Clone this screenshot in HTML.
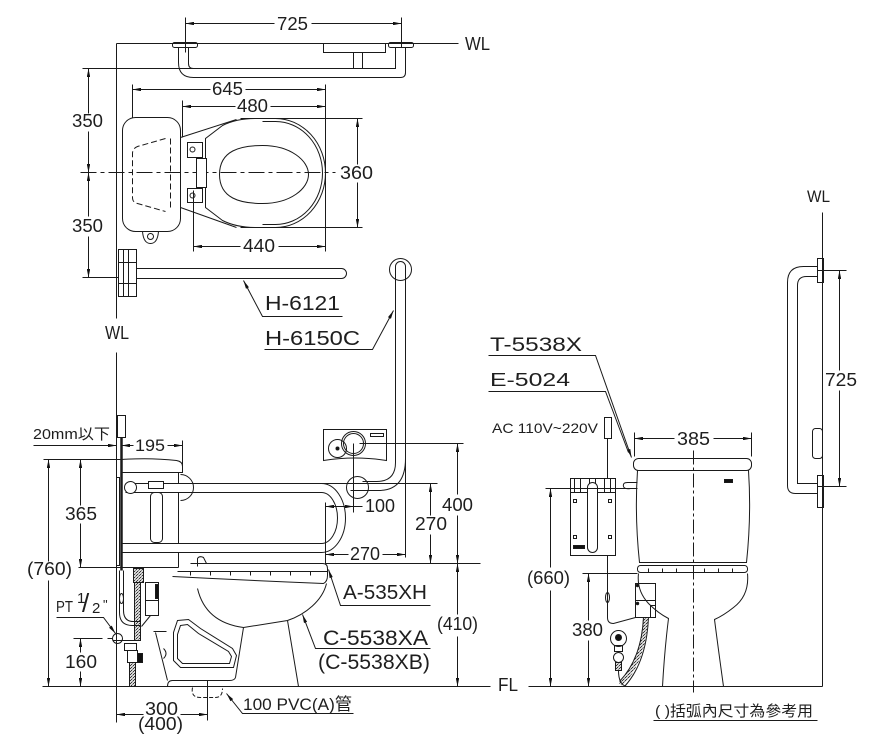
<!DOCTYPE html>
<html><head><meta charset="utf-8"><style>
html,body{margin:0;padding:0;background:#fff;width:871px;height:743px;overflow:hidden}
svg{display:block}
text{font-family:"Liberation Sans","Noto Sans CJK TC",sans-serif;fill:#1e1e1e}
</style></head><body>
<svg width="871" height="743" viewBox="0 0 871 743" xmlns="http://www.w3.org/2000/svg">
<defs>
<marker id="a" viewBox="0 0 10 4" refX="10" refY="2" markerWidth="9" markerHeight="3.4" orient="auto-start-reverse" markerUnits="userSpaceOnUse"><path d="M0,0L10,2L0,4z" fill="#111"/></marker>
<pattern id="h" width="3" height="3" patternUnits="userSpaceOnUse"><path d="M0,3L3,0" stroke="#111" stroke-width="0.8"/></pattern>
</defs>
<g fill="none" stroke="#1a1a1a" stroke-width="1" transform="translate(0.5,0.5)">
<!-- ===== PLAN VIEW ===== -->
<path d="M185,17V52M401,17V47"/>
<path d="M185,23H274" marker-start="url(#a)"/>
<path d="M311,23H401" marker-end="url(#a)"/>
<path d="M116,43H458"/>
<path d="M116,43V318M116,352V722"/>
<rect x="172" y="42" width="25" height="5" rx="2"/>
<rect x="388" y="42" width="25" height="5" rx="2"/>
<path d="M178,47V62Q178,77 193,77H400Q405,77 405,72V47"/>
<path d="M188,47V63Q188,68 193,68"/>
<path d="M82,68H395V47"/>
<rect x="323" y="43" width="62" height="9"/>
<path d="M353,52V68M362,52V68"/>
<path d="M88,68V113" marker-start="url(#a)"/>
<path d="M88,131V172" marker-end="url(#a)"/>
<path d="M88,172V216" marker-start="url(#a)"/>
<path d="M88,236V277" marker-end="url(#a)"/>
<path d="M82,277H118"/>
<path d="M80,172H335" stroke-dasharray="16,4,4,4"/>
<path d="M132,89H210" marker-start="url(#a)"/>
<path d="M245,89H325" marker-end="url(#a)"/>
<path d="M182,106H235" marker-start="url(#a)"/>
<path d="M270,106H325" marker-end="url(#a)"/>
<path d="M193,246H240" marker-start="url(#a)"/>
<path d="M278,246H325" marker-end="url(#a)"/>
<path d="M357,118V164" marker-start="url(#a)"/>
<path d="M357,182V227" marker-end="url(#a)"/>
<path d="M132,84V117M182,100V137M325,84V251M193,190V251M240,118H362M240,227H362"/>
<rect x="122" y="117" width="58" height="114" rx="13"/>
<path d="M165,138L137,146Q132,148 132,153V197Q132,202 137,203L165,211" stroke-dasharray="6,3"/>
<path d="M170,138V210" stroke-dasharray="6,3"/>
<path d="M142,231Q143,243 150,243Q157,243 158,231"/>
<circle cx="150" cy="236" r="3"/>
<path d="M180,137L236,119M180,207L236,227"/>
<path d="M205,138V207L222,220Q236,227 255,227H275A50,54.5 0 0 0 275,118H255Q236,118 222,125Z"/>
<path d="M262,121H275A47,51.5 0 0 1 275,224H262"/>
<path d="M219,174C219,150 240,145 262,145C290,145 308,160 308,174C308,188 290,203 262,203C240,203 219,198 219,174Z"/>
<rect x="187" y="142" width="15" height="15"/>
<rect x="187" y="188" width="15" height="14"/>
<rect x="196" y="158" width="10" height="29" fill="#fff"/>
<circle cx="192" cy="149" r="2.5"/><circle cx="192" cy="195" r="2.5"/>
<!-- H-6121 -->
<rect x="118" y="249" width="18" height="47"/>
<path d="M123,249V296M128,249V296M118,262H136M118,283H136"/>
<path d="M136,268H341A5,5 0 0 1 341,278H136"/>
<path d="M342,316H262L243,280" marker-end="url(#a)"/>
<!-- H-6150C -->
<circle cx="400" cy="269" r="11"/>
<path d="M395,277V266A5,5 0 0 1 405,266"/>
<path d="M395,266V462Q395,481 376,481H362"/>
<path d="M405,266V557"/>
<path d="M405,458Q405,490 378,490H350"/>
<circle cx="357" cy="487" r="11"/>
<path d="M264,349H372L393,310" marker-end="url(#a)"/>
<!-- valve box -->
<path d="M323,429H386V460Q355,455 323,460Z"/>
<circle cx="353" cy="443" r="12"/><circle cx="353" cy="443" r="10"/>
<circle cx="337" cy="448" r="9"/><circle cx="337" cy="448" r="1.5" fill="#111"/>
<rect x="370" y="433" width="13" height="3"/>
<path d="M353,443V512M359,443H463"/>
<!-- right dims of side view -->
<path d="M457,443V494" marker-start="url(#a)"/>
<path d="M457,515V563" marker-end="url(#a)"/>
<path d="M430,483V515" marker-start="url(#a)"/>
<path d="M430,534V563" marker-end="url(#a)"/>
<path d="M457,563V614" marker-start="url(#a)"/>
<path d="M457,636V686" marker-end="url(#a)"/>
<path d="M325,554H348" marker-start="url(#a)"/>
<path d="M382,554H405" marker-end="url(#a)"/>
<path d="M325,506H362" marker-start="url(#a)"/>
<path d="M338,506H353" marker-end="url(#a)"/>
<path d="M125,483H437"/>
<path d="M325,563H480"/>
<path d="M325,502V563"/>
<path d="M42,686H490M528,686H822"/>
<!-- left dims -->
<path d="M33,445H116" marker-end="url(#a)"/>
<path d="M121,445H133" marker-start="url(#a)"/>
<path d="M167,445H182" marker-end="url(#a)"/>
<path d="M182,440V472"/>
<path d="M43,459H121"/>
<path d="M80,459V505" marker-start="url(#a)"/>
<path d="M80,523V567" marker-end="url(#a)"/>
<path d="M78,567H121"/>
<path d="M48,459V561" marker-start="url(#a)"/>
<path d="M48,580V686" marker-end="url(#a)"/>
<path d="M80,638V652" marker-start="url(#a)"/>
<path d="M80,671V686" marker-end="url(#a)"/>
<path d="M73,638H102M107,638H112"/>
<path d="M56,617H103L115,633" marker-end="url(#a)"/>
<path d="M116,714H143" marker-start="url(#a)"/>
<path d="M180,714H207" marker-end="url(#a)"/>
<path d="M207,680V720"/>
<path d="M353,713H242L226,693" marker-end="url(#a)"/>
<path d="M192,687Q190,697 200,697H215Q222,697 222,688" stroke-dasharray="4,2"/>
<path d="M430,605H340L328,569" marker-end="url(#a)"/>
<path d="M430,648H315L302,614" marker-end="url(#a)"/>
<!-- side view toilet -->
<rect x="117" y="415" width="8" height="22"/>
<path d="M121,437V570" stroke-width="2.5"/>
<rect x="116" y="477" width="3" height="88"/>
<path d="M121,459Q150,457 176,460Q182,461 182,466V472H121"/>
<path d="M178,472V483M178,492V543M178,552V567"/>
<path d="M121,567H178"/>
<path d="M125,492H321A16,25.5 0 0 1 321,543H121"/>
<path d="M321,483A24,34.5 0 0 1 321,552H121"/>
<rect x="150" y="492" width="12" height="50" rx="4" fill="#fff"/>
<rect x="148" y="481" width="15" height="7" fill="#fff"/>
<circle cx="130" cy="487" r="6" fill="#fff"/>
<path d="M180,474A13,13 0 0 1 180,500"/>
<path d="M190,563H322Q327,563 327,568V575Q327,581 323,583"/>
<path d="M177,571H327"/>
<path d="M190,571V575M210,571V575M230,571V575M250,571V575M270,571V575M290,571V575M310,571V575"/>
<path d="M172,576Q250,580 323,583"/>
<path d="M197,566V558Q199,555 203,557L206,563"/>
<path d="M326,583C322,600 305,614 287,620L243,627"/>
<path d="M197,588Q205,622 243,627"/>
<path d="M243,627L235,677Q234,680 229,680H172Q167,680 167,686"/>
<path d="M287,620L298,686"/>
<path d="M153,631H166M155,632L167,680"/>
<path d="M163,648Q168,653 163,658"/>
<path d="M177,620L188,619L200,628L232,648L236,655L233,667L180,667L173,660L173,632Z"/>
<path d="M180,625L187,624L198,633L228,651L231,656L229,663L182,663L177,658L177,634Z"/>
<!-- piping -->
<path d="M119,570V612Q119,625 132,625H140"/>
<path d="M123,570V610Q123,621 133,621H140"/>
<ellipse cx="121" cy="598" rx="2" ry="5"/>
<rect x="133" y="568" width="10" height="14" fill="url(#h)"/>
<rect x="134" y="582" width="6" height="58" fill="url(#h)"/>
<rect x="145" y="582" width="13" height="33"/>
<path d="M145,600H158"/>
<rect x="155" y="584" width="3" height="14" fill="#111"/>
<path d="M150,615L141,626"/>
<path d="M112,640H137"/>
<path d="M117,633A5,5 0 0 0 117,643A5,5 0 0 0 117,633"/>
<rect x="124" y="643" width="12" height="7"/>
<rect x="127" y="650" width="10" height="12"/>
<rect x="137" y="653" width="5" height="9" fill="#111"/>
<rect x="129" y="662" width="6" height="24" fill="url(#h)"/>
<!-- ===== FRONT VIEW ===== -->
<path d="M488,355H595L631,457" marker-end="url(#a)"/>
<path d="M488,391H605L628,452"/>
<rect x="604" y="417" width="7" height="21"/>
<path d="M607,438V478"/>
<rect x="570" y="478" width="45" height="77"/>
<path d="M570,492H615"/>
<path d="M574,478V492M580,478V492M589,478V492M595,478V492M604,478V492M610,478V492"/>
<rect x="587" y="482" width="10" height="70" rx="5" fill="#fff"/>
<rect x="573" y="499" width="3" height="3"/><rect x="608" y="499" width="3" height="3"/>
<rect x="573" y="535" width="3" height="3"/><rect x="608" y="535" width="3" height="3"/>
<rect x="573" y="545" width="11" height="3" fill="#111"/>
<path d="M607,555V617Q607,623 613,623L635,617"/>
<ellipse cx="607" cy="597" rx="2" ry="5"/>
<path d="M545,488H637"/>
<path d="M550,488V567" marker-start="url(#a)"/>
<path d="M550,590V686" marker-end="url(#a)"/>
<path d="M582,573H637"/>
<path d="M588,573V620" marker-start="url(#a)"/>
<path d="M588,640V686" marker-end="url(#a)"/>
<rect x="633" y="458" width="118" height="12" rx="5"/>
<path d="M634,432V456M751,432V456"/>
<path d="M634,438H674" marker-start="url(#a)"/>
<path d="M713,438H751" marker-end="url(#a)"/>
<path d="M637,470Q634,515 639,562H746Q751,515 748,470"/>
<rect x="637" y="565" width="110" height="7" rx="3"/>
<path d="M648,568V572M662,568V572M676,568V572M704,568V572M718,568V572M732,568V572"/>
<path d="M637,482H627Q622,482 623,486Q624,489 630,488H637"/>
<rect x="724" y="479" width="8" height="3" fill="#111"/>
<path d="M693,450V692" stroke-dasharray="14,3,3,3"/>
<path d="M638,573Q636,590 648,603Q658,613 668,618Q664,650 662,686"/>
<path d="M747,573Q749,595 733,607Q723,615 714,619Q718,650 723,686"/>
<rect x="635" y="583" width="20" height="34"/>
<path d="M635,600H655"/>
<rect x="650" y="605" width="5" height="12"/>
<circle cx="637" cy="585" r="1.2" fill="#111"/><circle cx="637" cy="603" r="1.2" fill="#111"/>
<circle cx="618" cy="638" r="8"/>
<circle cx="618" cy="637" r="3" fill="#111"/>
<rect x="614" y="645" width="8" height="6"/>
<circle cx="618" cy="657" r="5"/>
<rect x="615" y="662" width="6" height="8" fill="url(#h)"/>
<path d="M618,670Q618,684 626,686"/>
<path d="M645,617Q643,660 620,684" stroke="url(#h)" stroke-width="5"/>
<path d="M643,617Q641,658 619,681M648,617Q646,662 624,686"/>
<!-- right wall & bar -->
<path d="M822,212V686"/>
<rect x="817" y="258" width="6" height="24"/>
<rect x="817" y="475" width="6" height="32"/>
<path d="M817,266H803Q787,266 787,282V485Q787,493 795,493H817"/>
<path d="M817,276H806Q797,276 797,285V483H817"/>
<rect x="812" y="428" width="10" height="30" rx="3"/>
<path d="M817,270H846M817,486H846"/>
<path d="M839,270V370" marker-start="url(#a)"/>
<path d="M839,390V486" marker-end="url(#a)"/>
<path d="M653,720H817"/>
</g>
<g stroke="none">
<text x="277" y="30" font-size="18" textLength="31" lengthAdjust="spacingAndGlyphs">725</text>
<text x="465" y="50" font-size="18" textLength="25" lengthAdjust="spacingAndGlyphs">WL</text>
<text x="212" y="95" font-size="18" textLength="31" lengthAdjust="spacingAndGlyphs">645</text>
<text x="237" y="112" font-size="18" textLength="31" lengthAdjust="spacingAndGlyphs">480</text>
<text x="72" y="127" font-size="18" textLength="31" lengthAdjust="spacingAndGlyphs">350</text>
<text x="72" y="232" font-size="18" textLength="31" lengthAdjust="spacingAndGlyphs">350</text>
<text x="340" y="179" font-size="18" textLength="33" lengthAdjust="spacingAndGlyphs">360</text>
<text x="243" y="252" font-size="18" textLength="32" lengthAdjust="spacingAndGlyphs">440</text>
<text x="265" y="310" font-size="20" textLength="75" lengthAdjust="spacingAndGlyphs">H-6121</text>
<text x="265" y="345" font-size="20" textLength="95" lengthAdjust="spacingAndGlyphs">H-6150C</text>
<text x="105" y="339" font-size="18" textLength="24" lengthAdjust="spacingAndGlyphs">WL</text>
<text x="33" y="439" font-size="15" textLength="77" lengthAdjust="spacingAndGlyphs">20mm以下</text>
<text x="135" y="451" font-size="17" textLength="30" lengthAdjust="spacingAndGlyphs">195</text>
<text x="65" y="520" font-size="18" textLength="32" lengthAdjust="spacingAndGlyphs">365</text>
<text x="27" y="575" font-size="18" textLength="45" lengthAdjust="spacingAndGlyphs">(760)</text>
<text x="56" y="612" font-size="16" textLength="17" lengthAdjust="spacingAndGlyphs">PT</text>
<text x="77" y="603" font-size="15">1</text>
<text x="82" y="612" font-size="26">/</text>
<text x="92" y="613" font-size="15">2</text>
<text x="103" y="609" font-size="13">"</text>
<text x="65" y="668" font-size="18" textLength="32" lengthAdjust="spacingAndGlyphs">160</text>
<text x="145" y="715" font-size="18" textLength="33" lengthAdjust="spacingAndGlyphs">300</text>
<text x="138" y="730" font-size="18" textLength="45" lengthAdjust="spacingAndGlyphs">(400)</text>
<text x="243" y="710" font-size="17" textLength="109" lengthAdjust="spacingAndGlyphs">100 PVC(A)管</text>
<text x="343" y="599" font-size="20" textLength="84" lengthAdjust="spacingAndGlyphs">A-535XH</text>
<text x="323" y="645" font-size="21" textLength="105" lengthAdjust="spacingAndGlyphs">C-5538XA</text>
<text x="318" y="669" font-size="21" textLength="112" lengthAdjust="spacingAndGlyphs">(C-5538XB)</text>
<text x="442" y="511" font-size="18" textLength="31" lengthAdjust="spacingAndGlyphs">400</text>
<text x="415" y="530" font-size="18" textLength="32" lengthAdjust="spacingAndGlyphs">270</text>
<text x="437" y="630" font-size="18" textLength="41" lengthAdjust="spacingAndGlyphs">(410)</text>
<text x="350" y="560" font-size="18" textLength="30" lengthAdjust="spacingAndGlyphs">270</text>
<text x="365" y="512" font-size="18" textLength="30" lengthAdjust="spacingAndGlyphs">100</text>
<text x="490" y="351" font-size="19" textLength="92" lengthAdjust="spacingAndGlyphs">T-5538X</text>
<text x="490" y="386" font-size="18" textLength="80" lengthAdjust="spacingAndGlyphs">E-5024</text>
<text x="492" y="433" font-size="14" textLength="106" lengthAdjust="spacingAndGlyphs">AC 110V~220V</text>
<text x="677" y="445" font-size="18" textLength="33" lengthAdjust="spacingAndGlyphs">385</text>
<text x="527" y="584" font-size="18" textLength="43" lengthAdjust="spacingAndGlyphs">(660)</text>
<text x="572" y="636" font-size="18" textLength="31" lengthAdjust="spacingAndGlyphs">380</text>
<text x="498" y="691" font-size="18" textLength="20" lengthAdjust="spacingAndGlyphs">FL</text>
<text x="807" y="202" font-size="17" textLength="23" lengthAdjust="spacingAndGlyphs">WL</text>
<text x="825" y="386" font-size="18" textLength="32" lengthAdjust="spacingAndGlyphs">725</text>
<text x="655" y="716" font-size="15" textLength="158" lengthAdjust="spacingAndGlyphs">(  )括弧內尺寸為參考用</text>
</g>
</svg>
</body></html>
